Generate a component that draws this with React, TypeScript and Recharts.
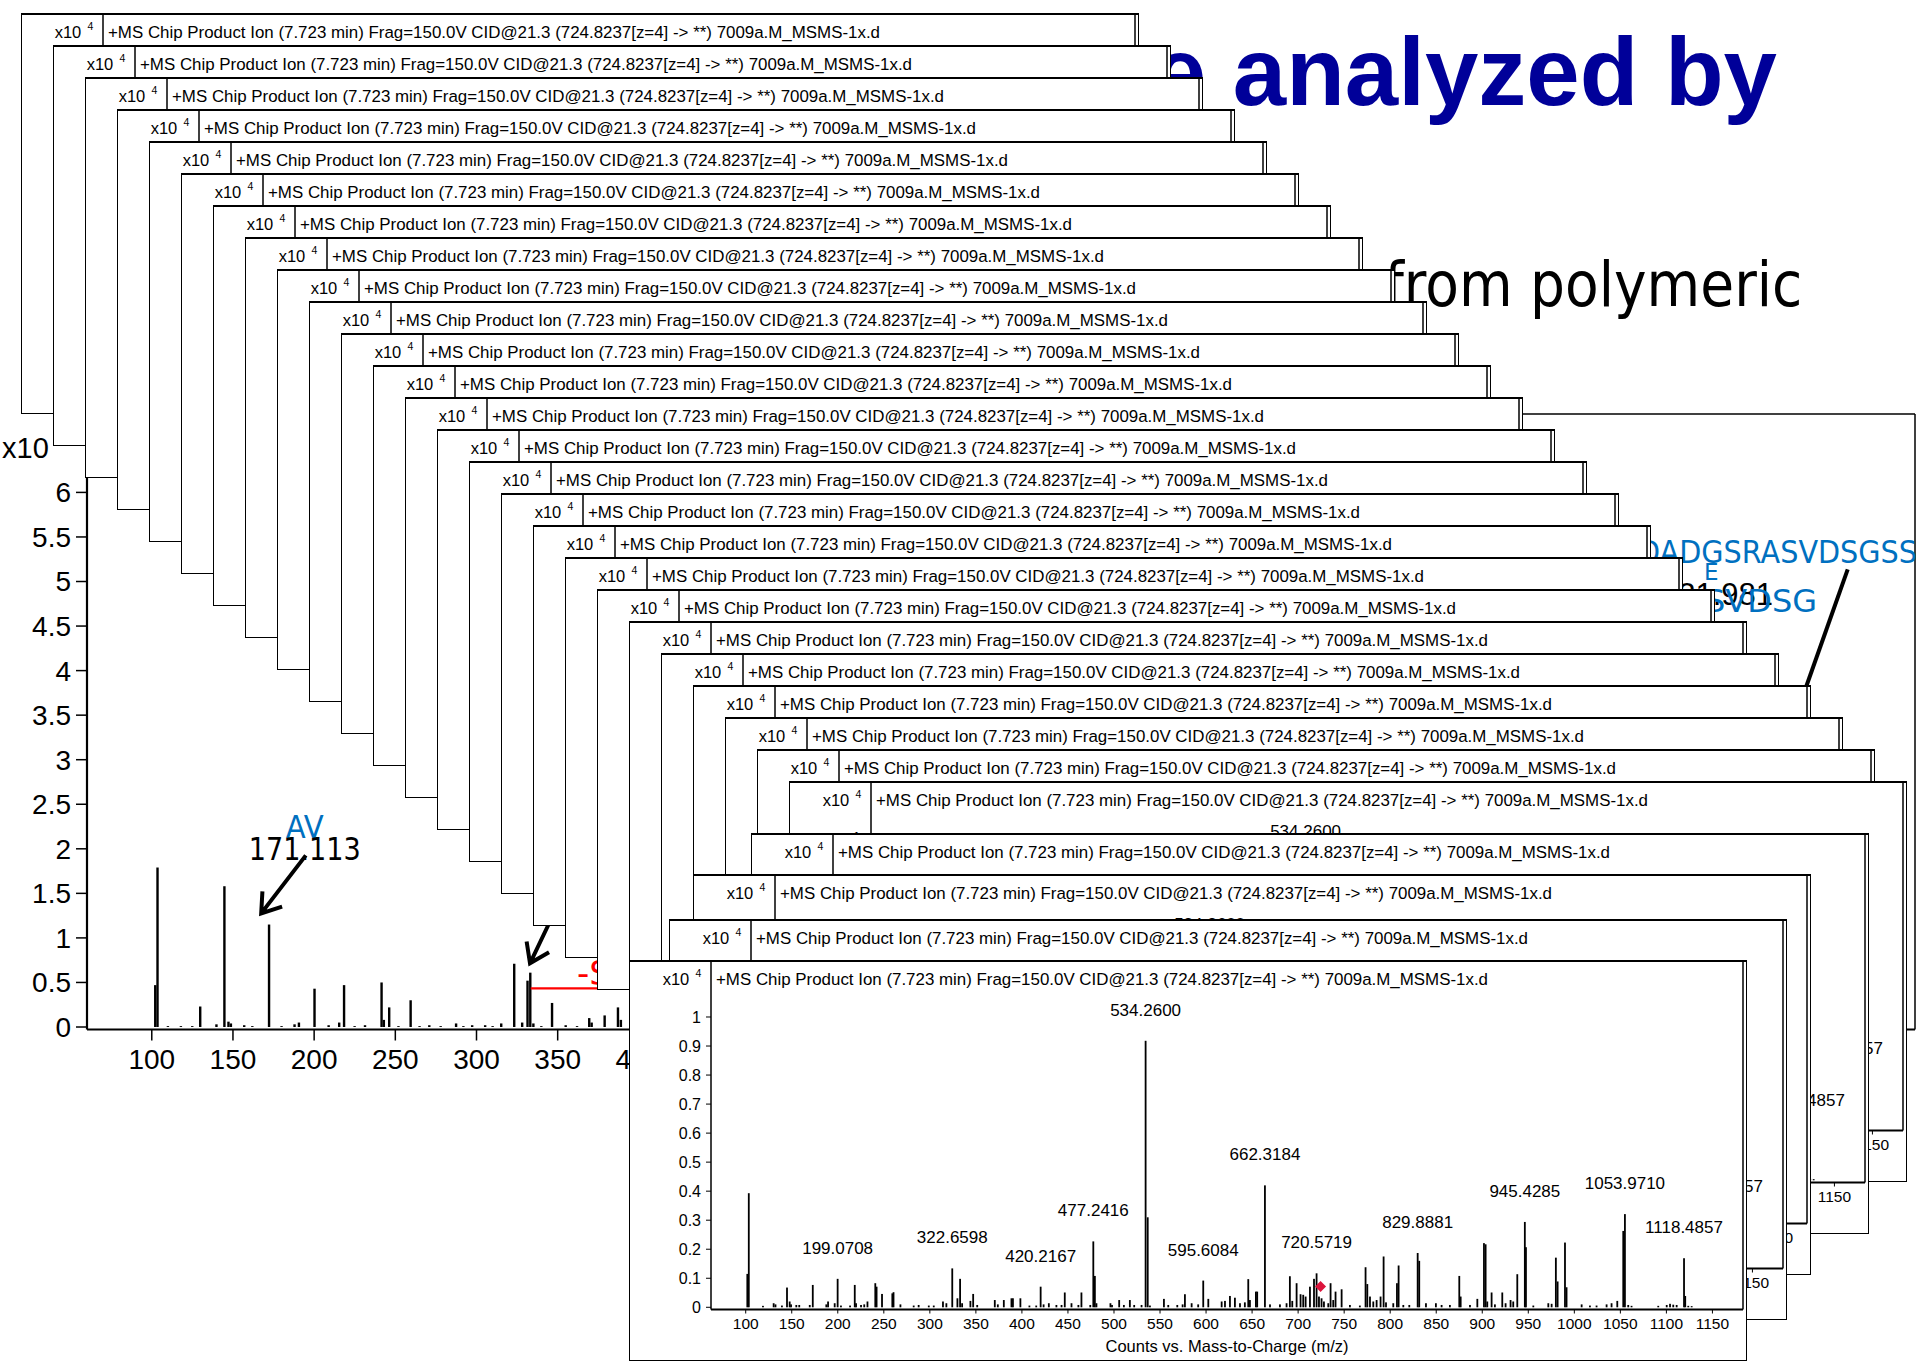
import {
  ComposedChart,
  Bar,
  Scatter,
  XAxis,
  YAxis,
  ReferenceLine,
  LabelList,
} from "recharts";

const FONT = "'Liberation Sans', Arial, sans-serif";
const HUMANIST = "'DejaVu Sans', Verdana, sans-serif";
const TITLE =
  "+MS Chip Product Ion (7.723 min) Frag=150.0V CID@21.3 (724.8237[z=4] -> **) 7009a.M_MSMS-1x.d";

// ---- MS/MS spectrum shown in every window (counts x10^4) ----
const mzTicks = [100, 150, 200, 250, 300, 350, 400, 450, 500, 550, 600, 650, 700, 750, 800, 850, 900, 950, 1000, 1050, 1100, 1150];
const countTicks = [0, 0.1, 0.2, 0.3, 0.4, 0.5, 0.6, 0.7, 0.8, 0.9, 1];

const peakMz = [
  101.8, 103.4, 118.8, 130.4, 132.4, 139.4, 144.9, 147.8, 149.3, 155, 158.2, 169.6, 172.9, 187.6, 189.5, 196.7,
  203.5, 213.4, 218.5, 219.9, 225.3, 228.8, 232.3, 240.8, 242.2, 248.1, 259.3, 260.6, 268.1, 282.5, 287.9,
  298.9, 304.3, 314.3, 318, 330, 332.9, 335.1, 344.1, 347.1, 351.5, 370.6, 373.9, 380.4, 388.7, 390.3, 398.4,
  408.2, 415.6, 423.6, 429.3, 437.5, 443.1, 446.6, 453.9, 461.4, 464.7, 474.3, 479.3, 481, 496.2, 497.9, 505.7,
  510.8, 517.3, 522, 530, 536.7, 539.1, 554.3, 559, 568.8, 574.6, 577.1, 584.4, 591.5, 602.5, 617,
  620.6, 626, 631.4, 636.9, 642.2, 645.9, 647.7, 654.2, 655.6, 669.5, 680.3, 687.5, 691.1, 693.7, 698.4,
  702.7, 705.6, 708.2, 712.9, 717.3, 722.7, 725.5, 728.1, 732.8, 735.3, 738.2, 740.7, 747.3, 756.3,
  767.1, 773.3, 775.2, 778.1, 781.7, 785.3, 789.6, 792.9, 795.5, 803.4, 807.4, 809.2, 814.3, 820.8, 831.6,
  838.9, 849.7, 855.9, 864.9, 875.1, 876.6, 886.7, 894.7, 901.9, 903.7, 905.5, 910.2, 913.8, 921.8, 925.4,
  930.8, 933.7, 938.1, 947.5, 955.5, 971.8, 975.4, 980, 981.9, 989.9, 991.6, 1008, 1017, 1024.2,
  1035.1, 1040.5, 1046.7, 1053.2, 1058.6, 1062.2, 1091.2, 1100.4, 1104, 1107.5, 1111.2, 1120.5, 1123.8, 1127.5,
];
const peakInt = [
  0.115, 0.393, 0.005, 0.014, 0.01, 0.006, 0.068, 0.02, 0.01, 0.008, 0.008, 0.008, 0.077, 0.01, 0.02, 0.014,
  0.006, 0.006, 0.077, 0.014, 0.008, 0.01, 0.02, 0.083, 0.071, 0.046, 0.048, 0.052, 0.01, 0.006, 0.008,
  0.006, 0.006, 0.02, 0.014, 0.031, 0.098, 0.014, 0.022, 0.046, 0.008, 0.025, 0.01, 0.025, 0.031, 0.031, 0.031,
  0.006, 0.006, 0.01, 0.014, 0.008, 0.008, 0.051, 0.014, 0.008, 0.051, 0.008, 0.108, 0.014, 0.014, 0.008, 0.025,
  0.008, 0.025, 0.008, 0.008, 0.31, 0.006, 0.029, 0.008, 0.008, 0.01, 0.045, 0.014, 0.01, 0.029, 0.02,
  0.022, 0.039, 0.033, 0.014, 0.017, 0.097, 0.025, 0.054, 0.054, 0.01, 0.01, 0.014, 0.107, 0.022, 0.083,
  0.045, 0.043, 0.037, 0.071, 0.098, 0.037, 0.031, 0.02, 0.014, 0.083, 0.025, 0.054, 0.062, 0.008,
  0.006, 0.138, 0.08, 0.037, 0.02, 0.025, 0.037, 0.175, 0.017, 0.014, 0.083, 0.144, 0.008, 0.008, 0.16,
  0.014, 0.014, 0.008, 0.008, 0.108, 0.037, 0.008, 0.029, 0.221, 0.217, 0.02, 0.051, 0.01, 0.051, 0.014,
  0.025, 0.02, 0.114, 0.207, 0.006, 0.014, 0.012, 0.171, 0.089, 0.223, 0.069, 0.01, 0.006, 0.006,
  0.01, 0.014, 0.022, 0.263, 0.008, 0.005, 0.005, 0.008, 0.012, 0.009, 0.008, 0.039, 0.005, 0.004,
];

const labelMz = [199.9, 324.4, 420.4, 477.6, 534.4, 597, 664, 720.1, 829.9, 946.3, 1055, 1119.2];
const labelInt = [0.098, 0.134, 0.071, 0.227, 0.918, 0.092, 0.42, 0.117, 0.187, 0.294, 0.321, 0.169];
const labelText = [
  "199.0708", "322.6598", "420.2167", "477.2416", "534.2600", "595.6084",
  "662.3184", "720.5719", "829.8881", "945.4285", "1053.9710", "1118.4857",
];

const precursorMz = [724.4];
const precursorInt = [0.072];

// ---- larger spectrum behind the stack ----
const bgMzTicks = [100, 150, 200, 250, 300, 350, 400, 450, 500, 550, 600, 650, 700, 750, 800, 850, 900, 950, 1000, 1050, 1100, 1150];
const bgCountTicks = [0, 0.5, 1, 1.5, 2, 2.5, 3, 3.5, 4, 4.5, 5, 5.5, 6];
const bgMz = [
  102.2, 103.6, 110, 118, 125, 129.9, 139.9, 144.8, 147.3, 148.8, 157, 162, 172.3, 180, 188, 190.7,
  200.3, 209, 215.5, 218.5, 225, 231.4, 241.6, 243, 246.3, 252, 259.5, 265, 271, 278, 287.5, 292,
  297.4, 305.4, 310, 315.3, 323.3, 328.2, 331.5, 333.2, 335.1, 340, 346.6, 355, 362, 369.5, 371,
  379, 387.2, 389, 395, 400,
];
const bgInt = [
  0.47, 1.79, 0.01, 0.01, 0.01, 0.23, 0.03, 1.58, 0.06, 0.04, 0.02, 0.01, 1.15, 0.01, 0.03, 0.05,
  0.43, 0.02, 0.05, 0.47, 0.01, 0.02, 0.5, 0.08, 0.22, 0.01, 0.3, 0.01, 0.02, 0.01, 0.04, 0.01,
  0.02, 0.02, 0.01, 0.04, 0.71, 0.05, 0.52, 0.61, 0.04, 0.01, 0.27, 0.02, 0.01, 0.1, 0.05,
  0.13, 0.22, 0.08, 0.03, 0.05,
];

const spectrum = [
  ...peakMz.map((mz, k) => ({ mz, i: peakInt[k] })),
  ...labelMz.map((mz, k) => ({ mz, i: labelInt[k], lbl: labelText[k] })),
].sort((a, b) => a.mz - b.mz);
const precursor = precursorMz.map((mz, k) => ({ mz, i: precursorInt[k] }));
const bgData = bgMz.map((mz, k) => ({ mz, i: bgInt[k] }));

const W = 1118;
const H = 401;
const X_DOMAIN: [number, number] = [62.3, 1183.2];

const Stick = (p: any) => {
  const { x, y, width, height } = p;
  if (height == null || isNaN(height) || height <= 0) return null;
  return <rect x={x + width / 2 - 0.9} y={y} width={1.8} height={height} fill="#000" />;
};

const BgStick = (p: any) => {
  const { x, y, width, height } = p;
  if (height == null || isNaN(height) || height <= 0) return null;
  return <rect x={x + width / 2 - 1.2} y={y} width={2.4} height={height} fill="#000" />;
};

const PeakLabel = (p: any) => {
  if (!p.value) return null;
  return (
    <text x={p.x + p.width / 2} y={p.y - 25} textAnchor="middle" fontSize={17} fontFamily={FONT} fill="#000">
      {p.value}
    </text>
  );
};

const Diamond = (p: any) => {
  const { cx, cy } = p;
  const r = 5.5;
  return <polygon points={`${cx},${cy - r} ${cx + r},${cy} ${cx},${cy + r} ${cx - r},${cy}`} fill="#dc143c" />;
};

function MsWindow({ left, top }: { left: number; top: number }) {
  const tick = { fill: "#000", fontSize: 15.5, fontFamily: FONT };
  return (
    <div style={{ position: "absolute", left, top, width: W, height: H, background: "#fff" }}>
      <ComposedChart width={W} height={H} data={spectrum} margin={{ top: 0, right: 4, bottom: 0, left: 0 }}>
        <XAxis
          dataKey="mz"
          type="number"
          domain={X_DOMAIN}
          ticks={mzTicks}
          interval={0}
          allowDataOverflow
          height={51.5}
          tickSize={4}
          tickMargin={4}
          axisLine={{ stroke: "#000", strokeWidth: 2 }}
          tickLine={{ stroke: "#000" }}
          tick={tick}
        />
        <YAxis
          type="number"
          domain={[-0.0076, 1.1963]}
          ticks={countTicks}
          interval={0}
          allowDataOverflow
          width={82}
          tickSize={5}
          tickMargin={5}
          axisLine={{ stroke: "#000", strokeWidth: 1.5 }}
          tickLine={{ stroke: "#000" }}
          tick={{ ...tick, fontSize: 16 }}
        />
        <ReferenceLine x={X_DOMAIN[1]} stroke="#000" strokeWidth={1.5} ifOverflow="visible" />
        <Bar dataKey="i" shape={Stick} barSize={2} isAnimationActive={false}>
          <LabelList dataKey="lbl" content={PeakLabel} />
        </Bar>
        <Scatter data={precursor} dataKey="i" shape={Diamond} isAnimationActive={false} />
      </ComposedChart>
      <svg style={{ position: "absolute", left: 0, top: 0 }} width={W} height={H} fontFamily={FONT} fill="#000">
        <text x={33.7} y={25.3} fontSize={16.5}>x10</text>
        <text x={66.5} y={17.3} fontSize={10.5}>4</text>
        <text x={87} y={25.3} fontSize={16.9}>{TITLE}</text>
        <text x={598} y={392} textAnchor="middle" fontSize={16.5}>Counts vs. Mass-to-Charge (m/z)</text>
      </svg>
      <div
        style={{
          position: "absolute",
          inset: 0,
          border: "1.5px solid #000",
          borderTopWidth: 2,
          boxSizing: "border-box",
        }}
      />
    </div>
  );
}

function BackgroundSpectrum() {
  const tick = { fill: "#000", fontSize: 28, fontFamily: FONT };
  return (
    <div style={{ position: "absolute", left: 0, top: 380 }}>
      <ComposedChart width={1920} height={709.5} data={bgData} margin={{ top: 34, right: 5, bottom: 0, left: 0 }}>
        <XAxis
          dataKey="mz"
          type="number"
          domain={[60.1, 1186]}
          ticks={bgMzTicks}
          interval={0}
          allowDataOverflow
          height={60}
          tickSize={11}
          tickMargin={9}
          axisLine={{ stroke: "#000", strokeWidth: 2.2 }}
          tickLine={{ stroke: "#000", strokeWidth: 1.5 }}
          tick={tick}
        />
        <YAxis
          type="number"
          domain={[-0.028, 6.88]}
          ticks={bgCountTicks}
          interval={0}
          allowDataOverflow
          width={87}
          tickSize={11}
          tickMargin={5}
          axisLine={{ stroke: "#000", strokeWidth: 2.2 }}
          tickLine={{ stroke: "#000", strokeWidth: 1.5 }}
          tick={tick}
        />
        <ReferenceLine y={6.88} stroke="#000" strokeWidth={1.5} ifOverflow="visible" />
        <ReferenceLine x={1186} stroke="#000" strokeWidth={1.5} ifOverflow="visible" />
        <Bar dataKey="i" shape={BgStick} barSize={3} isAnimationActive={false} />
      </ComposedChart>
    </div>
  );
}

function arrow(x0: number, y0: number, x1: number, y1: number, len = 22) {
  const a = Math.atan2(y1 - y0, x1 - x0);
  const h1 = [x1 - len * Math.cos(a - 0.6), y1 - len * Math.sin(a - 0.6)];
  const h2 = [x1 - len * Math.cos(a + 0.6), y1 - len * Math.sin(a + 0.6)];
  return `M${x0},${y0} L${x1},${y1} M${h1[0]},${h1[1]} L${x1},${y1} L${h2[0]},${h2[1]}`;
}

function SlideText() {
  return (
    <svg style={{ position: "absolute", left: 0, top: 0 }} width={1920} height={1361}>
      <text x={2} y={458} fontSize={29} fontFamily={FONT} fill="#000">x10</text>
      <text x={285.7} y={837.5} fontSize={32} fontFamily={HUMANIST} fill="#0070c0" textLength={38} lengthAdjust="spacingAndGlyphs">AV</text>
      <text x={248.7} y={860} fontSize={32} fontFamily={HUMANIST} fill="#000" textLength={112} lengthAdjust="spacingAndGlyphs">171.113</text>
      <path d={arrow(305.8, 855.4, 261.2, 913.4)} stroke="#000" strokeWidth={4} fill="none" />
      <path d={arrow(548.3, 925, 530, 963.3)} stroke="#000" strokeWidth={4} fill="none" />
      <line x1={530.7} y1={988.3} x2={720} y2={988.3} stroke="#ff0000" strokeWidth={2.2} />
      <text x={577} y={985} fontSize={34} fontFamily={HUMANIST} fill="#ff0000">-SO3</text>

      <text x={1777} y={105} textAnchor="end" fontSize={96} fontWeight="bold" fontFamily={FONT} fill="#000099">
        be analyzed by
      </text>
      <text x={1384.4} y={305.8} fontSize={63} fontFamily={HUMANIST} fill="#000" textLength={418} lengthAdjust="spacingAndGlyphs">
        from polymeric
      </text>

      <text x={1638} y={563} fontSize={32} fontFamily={HUMANIST} fill="#0070c0" textLength={279} lengthAdjust="spacingAndGlyphs">
        DADGSRASVDSGSS
      </text>
      <text x={1704} y={580} fontSize={23} fontFamily={HUMANIST} fill="#0070c0">E</text>
      <text x={1773} y={605} textAnchor="end" fontSize={31} fontFamily={FONT} fill="#000">21.981</text>
      <text x={1817} y={612} textAnchor="end" fontSize={32} fontFamily={HUMANIST} fill="#0070c0">ASVDSG</text>
      <line x1={1847.7} y1={569.3} x2={1805} y2={690} stroke="#000" strokeWidth={4} />
    </svg>
  );
}

const cascade = Array.from({ length: 25 }, (_, k) => ({ left: 21 + 32 * k, top: 12.5 + 32 * k }));
const front = [
  { left: 751, top: 833 },
  { left: 693, top: 874 },
  { left: 669, top: 919 },
  { left: 629, top: 960 },
];

export default function App() {
  return (
    <div
      style={{
        position: "absolute",
        left: 0,
        top: 0,
        width: 1920,
        height: 1361,
        overflow: "hidden",
        background: "#fff",
        fontFamily: FONT,
      }}
    >
      <BackgroundSpectrum />
      <SlideText />
      {[...cascade, ...front].map((w, k) => (
        <MsWindow key={k} left={w.left} top={w.top} />
      ))}
    </div>
  );
}
